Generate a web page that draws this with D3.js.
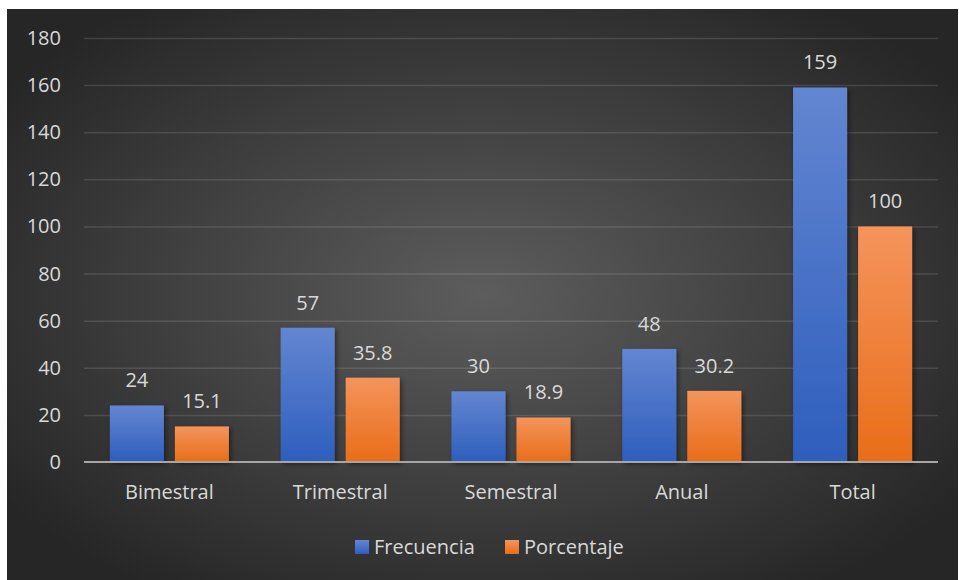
<!DOCTYPE html>
<head>
   <meta charset="utf-8">
   <script src="https://d3js.org/d3.v7.min.js"></script>
   <style>
   body{ margin: 0; background: #ffffff; }
   text{
      font-family: "Open Sans", sans-serif;
      font-size: 20px;
      fill: #d9d9d9;
   }
   .grid line{ stroke: rgba(255,255,255,0.12); stroke-width: 1.5; }
   path.domain{ display: none; }
   </style>
</head>
<body>
<script>
const categories = ["Bimestral", "Trimestral", "Semestral", "Anual", "Total"];
const series = ["Frecuencia", "Porcentaje"];
const frecuencia = [24, 57, 30, 48, 159];
const porcentaje = [15.1, 35.8, 18.9, 30.2, 100];
const yTicks = [0, 20, 40, 60, 80, 100, 120, 140, 160, 180];

const width = 959, height = 580;
const margin = {top: 38, right: 21, bottom: 118, left: 84};

const svg = d3.select("body").append("svg")
   .attr("width", width)
   .attr("height", height);

const defs = svg.append("defs");

const bg = defs.append("radialGradient").attr("id", "bg")
   .attr("cx", "50%").attr("cy", "50%").attr("r", "62%");
bg.append("stop").attr("offset", "0%").attr("stop-color", "#5d5d5d");
bg.append("stop").attr("offset", "100%").attr("stop-color", "#262626");

const colours = {
   Frecuencia: ["#6386d1", "#2e5ebd"],
   Porcentaje: ["#f4945c", "#e96d18"]
};
series.forEach((s, i) => {
   const g = defs.append("linearGradient").attr("id", "grad" + i)
      .attr("x1", 0).attr("x2", 0).attr("y1", 0).attr("y2", 1);
   g.append("stop").attr("offset", "0%").attr("stop-color", colours[s][0]);
   g.append("stop").attr("offset", "100%").attr("stop-color", colours[s][1]);
});

const shadow = defs.append("filter").attr("id", "shadow")
   .attr("x", "-20%").attr("y", "-20%").attr("width", "150%").attr("height", "150%");
shadow.append("feDropShadow")
   .attr("dx", 2).attr("dy", 2).attr("stdDeviation", 2.5)
   .attr("flood-color", "#000").attr("flood-opacity", 0.45);

svg.append("rect")
   .attr("x", 7).attr("y", 9)
   .attr("width", 951).attr("height", height - 9)
   .attr("fill", "url(#bg)");

const x = d3.scaleBand()
   .domain(categories)
   .range([margin.left, width - margin.right])
   .paddingInner(0.303)
   .paddingOuter(0.1515);

const xs = d3.scaleBand()
   .domain(series)
   .range([0, x.bandwidth()])
   .paddingInner(0.169);

const y = d3.scaleLinear()
   .domain([0, 180])
   .range([height - margin.bottom, margin.top]);

// gridlines
svg.append("g")
   .attr("class", "grid")
   .attr("transform", `translate(${margin.left},0)`)
   .call(d3.axisLeft(y).tickValues(yTicks.slice(1)).tickSize(-(width - margin.left - margin.right)).tickFormat(""));

// y tick labels
svg.append("g")
   .selectAll("text")
   .data(yTicks)
   .join("text")
   .attr("x", 61)
   .attr("y", d => y(d))
   .attr("dy", "0.35em")
   .attr("text-anchor", "end")
   .text(d => d);

const rows = categories.map((c, i) => ({
   cat: c,
   values: [
      {s: "Frecuencia", v: frecuencia[i], idx: 0},
      {s: "Porcentaje", v: porcentaje[i], idx: 1}
   ]
}));

const groups = svg.append("g")
   .selectAll("g")
   .data(rows)
   .join("g")
   .attr("transform", d => `translate(${x(d.cat)},0)`);

groups.selectAll("rect")
   .data(d => d.values)
   .join("rect")
   .attr("x", d => xs(d.s))
   .attr("y", d => y(d.v))
   .attr("width", xs.bandwidth())
   .attr("height", d => y(0) - y(d.v))
   .attr("fill", d => `url(#grad${d.idx})`)
   .attr("filter", "url(#shadow)");

groups.selectAll("text.val")
   .data(d => d.values)
   .join("text")
   .attr("class", "val")
   .attr("x", d => xs(d.s) + xs.bandwidth() / 2)
   .attr("y", d => y(d.v) - 18)
   .attr("text-anchor", "middle")
   .text(d => d.v);

// baseline
svg.append("line")
   .attr("x1", margin.left).attr("x2", width - margin.right)
   .attr("y1", y(0)).attr("y2", y(0))
   .attr("stroke", "#a6a6a6").attr("stroke-width", 2);

// category labels
svg.append("g")
   .selectAll("text")
   .data(categories)
   .join("text")
   .attr("x", d => x(d) + x.bandwidth() / 2)
   .attr("y", 499)
   .attr("text-anchor", "middle")
   .text(d => d);

// legend
const legend = svg.append("g")
   .selectAll("g")
   .data(series)
   .join("g")
   .attr("transform", (d, i) => `translate(${355 + i * 150},540)`);
legend.append("rect")
   .attr("width", 14).attr("height", 14)
   .attr("fill", (d, i) => `url(#grad${i})`);
legend.append("text")
   .attr("x", 19).attr("y", 7)
   .attr("dy", "0.35em")
   .text(d => d);
</script>
</body>
